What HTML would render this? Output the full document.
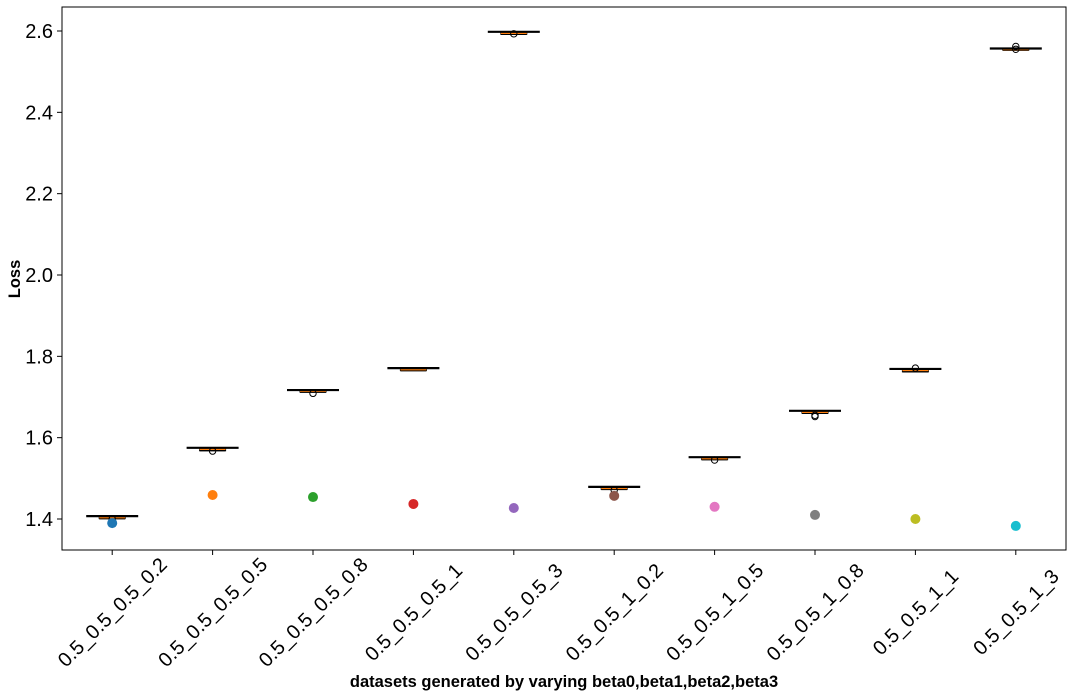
<!DOCTYPE html>
<html><head><meta charset="utf-8"><style>
html,body{margin:0;padding:0;background:#fff;}
svg{display:block;font-family:"Liberation Sans",sans-serif;}
</style></head><body>
<svg id="chart" width="1073" height="697">
<rect x="0" y="0" width="1073" height="697" fill="#fff"/>
<g id="plot"></g>
<rect x="62" y="7" width="1004" height="543" fill="none" stroke="#000" stroke-width="1"/>
<text x="564" y="687" text-anchor="middle" font-size="16.5" font-weight="bold">datasets generated by varying beta0,beta1,beta2,beta3</text>
<text transform="translate(20,279) rotate(-90)" text-anchor="middle" font-size="16.5" font-weight="bold">Loss</text>
</svg>
<script>
const categories = ["0.5_0.5_0.5_0.2","0.5_0.5_0.5_0.5","0.5_0.5_0.5_0.8","0.5_0.5_0.5_1","0.5_0.5_0.5_3","0.5_0.5_1_0.2","0.5_0.5_1_0.5","0.5_0.5_1_0.8","0.5_0.5_1_1","0.5_0.5_1_3"];
const boxUpper = [1.407,1.575,1.717,1.771,2.598,1.479,1.552,1.666,1.769,2.557];
const boxMedian = [1.404,1.572,1.715,1.768,2.595,1.476,1.549,1.663,1.766,2.555];
const boxLower = [1.401,1.568,1.712,1.765,2.592,1.473,1.546,1.660,1.762,2.553];
const outliers = [[1.400],[1.567],[1.709],[],[2.593],[1.471],[1.545],[1.655,1.652],[1.771],[2.562,2.555]];
const points = [1.390,1.459,1.454,1.437,1.427,1.457,1.430,1.410,1.400,1.383];
const yTicks = [1.4,1.6,1.8,2.0,2.2,2.4,2.6];
const colors = ["#1f77b4","#ff7f0e","#2ca02c","#d62728","#9467bd","#8c564b","#e377c2","#7f7f7f","#bcbd22","#17becf"];

const NS="http://www.w3.org/2000/svg";
const g=document.getElementById('plot');
const X0=62,X1=1066,Y0=550,Y1=7;
function y(v){return 519-(v-1.4)*(488/1.2);}
function x(i){return 112.2+i*100.4;}
function mk(tag,attrs,parent){const e=document.createElementNS(NS,tag);for(const k in attrs)e.setAttribute(k,attrs[k]);(parent||g).appendChild(e);return e;}

yTicks.forEach(t=>{
  const l=mk('line',{x1:X0-5,x2:X0,y1:y(t),y2:y(t),stroke:'#000'});
  
  
  const tx=mk('text',{x:X0-9,y:y(t)+7,'text-anchor':'end','font-size':'20'});
  tx.textContent=t.toFixed(1);
  
  
});
categories.forEach((c,i)=>{
  const cx=x(i);
  const tk=mk('line',{x1:cx,x2:cx,y1:Y0,y2:Y0+5,stroke:'#000'});
  
  
  const tx=mk('text',{x:0,y:7,'text-anchor':'middle','font-size':'20',transform:`translate(${cx},${Y0+62}) rotate(-45)`});
  tx.textContent=c;
  
  

  const bg=mk('g',{});
  
  
  mk('line',{x1:cx-13,x2:cx+13,y1:y(boxLower[i]),y2:y(boxLower[i]),stroke:'#000','stroke-width':1.5},bg);
  mk('rect',{x:cx-13,y:y(boxUpper[i]),width:26,height:Math.max(1,y(boxLower[i])-y(boxUpper[i])),fill:'none',stroke:'#000','stroke-width':1},bg);
  mk('line',{x1:cx-13,x2:cx+13,y1:y(boxMedian[i]),y2:y(boxMedian[i]),stroke:'#ff7f0e','stroke-width':2},bg);
  mk('line',{x1:cx-26,x2:cx+26,y1:y(boxUpper[i]),y2:y(boxUpper[i]),stroke:'#000','stroke-width':2.2},bg);
  outliers[i].forEach(o=>{
    const oc=mk('circle',{cx:cx,cy:y(o),r:3.2,fill:'none',stroke:'#000','stroke-width':1},bg);
    
    
  });
  const p=mk('circle',{cx:cx,cy:y(points[i]),r:5,fill:colors[i]});
  
  
});
</script>
</body></html>
